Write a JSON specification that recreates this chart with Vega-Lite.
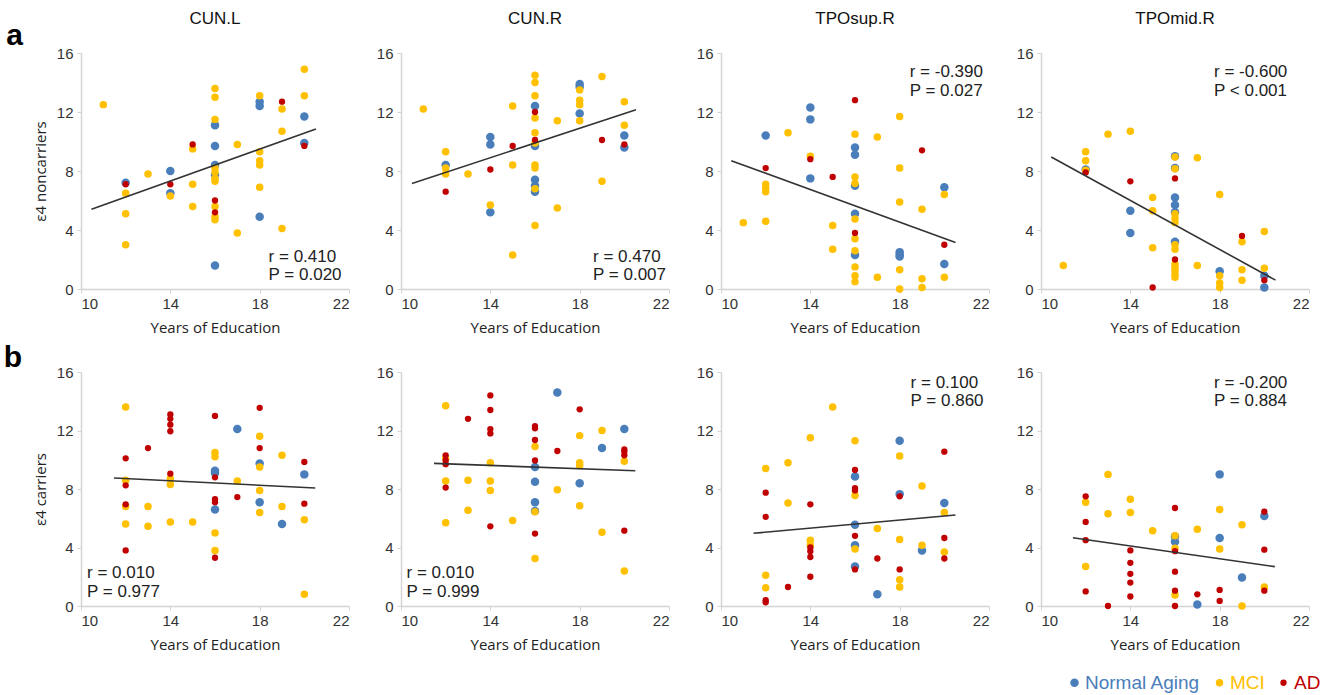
{
"$schema": "https://vega.github.io/schema/vega-lite/v6.json",
"padding": {"left": 3, "top": 10, "right": 5, "bottom": 5},
"background": "white",
"datasets": {
"pts": [
{"p":1,"g":"Normal Aging","x":12,"y":7.2},{"p":1,"g":"Normal Aging","x":14,"y":8.0},{"p":1,"g":"Normal Aging","x":14,"y":6.5},{"p":1,"g":"Normal Aging","x":16,"y":11.1},{"p":1,"g":"Normal Aging","x":16,"y":9.7},{"p":1,"g":"Normal Aging","x":16,"y":8.4},{"p":1,"g":"Normal Aging","x":16,"y":7.75},{"p":1,"g":"Normal Aging","x":16,"y":1.6},{"p":1,"g":"Normal Aging","x":18,"y":12.7},{"p":1,"g":"Normal Aging","x":18,"y":12.4},{"p":1,"g":"Normal Aging","x":18,"y":4.9},{"p":1,"g":"Normal Aging","x":20,"y":11.7},{"p":1,"g":"Normal Aging","x":20,"y":9.9},
{"p":1,"g":"MCI","x":11,"y":12.5},{"p":1,"g":"MCI","x":12,"y":6.5},{"p":1,"g":"MCI","x":12,"y":5.1},{"p":1,"g":"MCI","x":12,"y":3.0},{"p":1,"g":"MCI","x":13,"y":7.8},{"p":1,"g":"MCI","x":14,"y":6.3},{"p":1,"g":"MCI","x":15,"y":9.5},{"p":1,"g":"MCI","x":15,"y":7.1},{"p":1,"g":"MCI","x":15,"y":5.6},{"p":1,"g":"MCI","x":16,"y":13.6},{"p":1,"g":"MCI","x":16,"y":13.0},{"p":1,"g":"MCI","x":16,"y":11.5},{"p":1,"g":"MCI","x":16,"y":8.2},{"p":1,"g":"MCI","x":16,"y":7.9},{"p":1,"g":"MCI","x":16,"y":7.5},{"p":1,"g":"MCI","x":16,"y":7.3},{"p":1,"g":"MCI","x":16,"y":5.6},{"p":1,"g":"MCI","x":16,"y":4.9},{"p":1,"g":"MCI","x":16,"y":4.7},{"p":1,"g":"MCI","x":17,"y":9.8},{"p":1,"g":"MCI","x":17,"y":3.8},{"p":1,"g":"MCI","x":18,"y":13.1},{"p":1,"g":"MCI","x":18,"y":9.3},{"p":1,"g":"MCI","x":18,"y":8.7},{"p":1,"g":"MCI","x":18,"y":8.4},{"p":1,"g":"MCI","x":18,"y":6.9},{"p":1,"g":"MCI","x":19,"y":12.2},{"p":1,"g":"MCI","x":19,"y":10.7},{"p":1,"g":"MCI","x":19,"y":4.1},{"p":1,"g":"MCI","x":20,"y":14.9},{"p":1,"g":"MCI","x":20,"y":13.1},
{"p":1,"g":"AD","x":12,"y":7.1},{"p":1,"g":"AD","x":14,"y":7.1},{"p":1,"g":"AD","x":15,"y":9.8},{"p":1,"g":"AD","x":16,"y":6.0},{"p":1,"g":"AD","x":16,"y":5.2},{"p":1,"g":"AD","x":19,"y":12.7},{"p":1,"g":"AD","x":20,"y":9.7},

{"p":2,"g":"Normal Aging","x":12,"y":8.4},{"p":2,"g":"Normal Aging","x":14,"y":10.3},{"p":2,"g":"Normal Aging","x":14,"y":9.8},{"p":2,"g":"Normal Aging","x":14,"y":5.2},{"p":2,"g":"Normal Aging","x":16,"y":12.4},{"p":2,"g":"Normal Aging","x":16,"y":9.7},{"p":2,"g":"Normal Aging","x":16,"y":7.4},{"p":2,"g":"Normal Aging","x":16,"y":7.0},{"p":2,"g":"Normal Aging","x":16,"y":6.6},{"p":2,"g":"Normal Aging","x":18,"y":13.9},{"p":2,"g":"Normal Aging","x":18,"y":13.7},{"p":2,"g":"Normal Aging","x":18,"y":11.9},{"p":2,"g":"Normal Aging","x":20,"y":10.4},{"p":2,"g":"Normal Aging","x":20,"y":9.6},
{"p":2,"g":"MCI","x":11,"y":12.2},{"p":2,"g":"MCI","x":12,"y":9.3},{"p":2,"g":"MCI","x":12,"y":8.2},{"p":2,"g":"MCI","x":12,"y":7.8},{"p":2,"g":"MCI","x":13,"y":7.8},{"p":2,"g":"MCI","x":14,"y":5.7},{"p":2,"g":"MCI","x":15,"y":12.4},{"p":2,"g":"MCI","x":15,"y":8.4},{"p":2,"g":"MCI","x":15,"y":2.3},{"p":2,"g":"MCI","x":16,"y":14.5},{"p":2,"g":"MCI","x":16,"y":14.0},{"p":2,"g":"MCI","x":16,"y":13.1},{"p":2,"g":"MCI","x":16,"y":11.6},{"p":2,"g":"MCI","x":16,"y":10.6},{"p":2,"g":"MCI","x":16,"y":9.9},{"p":2,"g":"MCI","x":16,"y":8.4},{"p":2,"g":"MCI","x":16,"y":8.2},{"p":2,"g":"MCI","x":16,"y":6.8},{"p":2,"g":"MCI","x":16,"y":4.3},{"p":2,"g":"MCI","x":17,"y":11.4},{"p":2,"g":"MCI","x":17,"y":5.5},{"p":2,"g":"MCI","x":18,"y":13.5},{"p":2,"g":"MCI","x":18,"y":12.8},{"p":2,"g":"MCI","x":18,"y":12.5},{"p":2,"g":"MCI","x":18,"y":11.4},{"p":2,"g":"MCI","x":19,"y":14.4},{"p":2,"g":"MCI","x":19,"y":7.3},{"p":2,"g":"MCI","x":20,"y":12.7},{"p":2,"g":"MCI","x":20,"y":11.1},
{"p":2,"g":"AD","x":12,"y":6.6},{"p":2,"g":"AD","x":14,"y":8.1},{"p":2,"g":"AD","x":15,"y":9.7},{"p":2,"g":"AD","x":16,"y":12.0},{"p":2,"g":"AD","x":16,"y":10.1},{"p":2,"g":"AD","x":19,"y":10.1},{"p":2,"g":"AD","x":20,"y":9.8},

{"p":3,"g":"Normal Aging","x":12,"y":10.4},{"p":3,"g":"Normal Aging","x":14,"y":12.3},{"p":3,"g":"Normal Aging","x":14,"y":11.5},{"p":3,"g":"Normal Aging","x":14,"y":7.5},{"p":3,"g":"Normal Aging","x":16,"y":9.6},{"p":3,"g":"Normal Aging","x":16,"y":9.1},{"p":3,"g":"Normal Aging","x":16,"y":7.0},{"p":3,"g":"Normal Aging","x":16,"y":5.1},{"p":3,"g":"Normal Aging","x":16,"y":2.3},{"p":3,"g":"Normal Aging","x":18,"y":2.5},{"p":3,"g":"Normal Aging","x":18,"y":2.3},{"p":3,"g":"Normal Aging","x":18,"y":2.2},{"p":3,"g":"Normal Aging","x":20,"y":6.9},{"p":3,"g":"Normal Aging","x":20,"y":1.7},
{"p":3,"g":"MCI","x":11,"y":4.5},{"p":3,"g":"MCI","x":12,"y":7.1},{"p":3,"g":"MCI","x":12,"y":6.85},{"p":3,"g":"MCI","x":12,"y":6.6},{"p":3,"g":"MCI","x":12,"y":4.6},{"p":3,"g":"MCI","x":13,"y":10.6},{"p":3,"g":"MCI","x":14,"y":9.0},{"p":3,"g":"MCI","x":15,"y":4.3},{"p":3,"g":"MCI","x":15,"y":2.7},{"p":3,"g":"MCI","x":16,"y":10.5},{"p":3,"g":"MCI","x":16,"y":7.6},{"p":3,"g":"MCI","x":16,"y":7.15},{"p":3,"g":"MCI","x":16,"y":4.75},{"p":3,"g":"MCI","x":16,"y":3.4},{"p":3,"g":"MCI","x":16,"y":2.6},{"p":3,"g":"MCI","x":16,"y":1.5},{"p":3,"g":"MCI","x":16,"y":0.9},{"p":3,"g":"MCI","x":16,"y":0.5},{"p":3,"g":"MCI","x":17,"y":10.3},{"p":3,"g":"MCI","x":17,"y":0.8},{"p":3,"g":"MCI","x":18,"y":11.7},{"p":3,"g":"MCI","x":18,"y":8.2},{"p":3,"g":"MCI","x":18,"y":5.9},{"p":3,"g":"MCI","x":18,"y":1.3},{"p":3,"g":"MCI","x":18,"y":0.0},{"p":3,"g":"MCI","x":19,"y":5.4},{"p":3,"g":"MCI","x":19,"y":0.7},{"p":3,"g":"MCI","x":19,"y":0.1},{"p":3,"g":"MCI","x":20,"y":6.4},{"p":3,"g":"MCI","x":20,"y":0.8},
{"p":3,"g":"AD","x":12,"y":8.2},{"p":3,"g":"AD","x":14,"y":8.8},{"p":3,"g":"AD","x":15,"y":7.6},{"p":3,"g":"AD","x":16,"y":12.8},{"p":3,"g":"AD","x":16,"y":3.8},{"p":3,"g":"AD","x":19,"y":9.4},{"p":3,"g":"AD","x":20,"y":3.0},

{"p":4,"g":"Normal Aging","x":12,"y":8.1},{"p":4,"g":"Normal Aging","x":14,"y":5.3},{"p":4,"g":"Normal Aging","x":14,"y":3.8},{"p":4,"g":"Normal Aging","x":16,"y":9.0},{"p":4,"g":"Normal Aging","x":16,"y":8.2},{"p":4,"g":"Normal Aging","x":16,"y":6.2},{"p":4,"g":"Normal Aging","x":16,"y":5.7},{"p":4,"g":"Normal Aging","x":16,"y":5.2},{"p":4,"g":"Normal Aging","x":16,"y":3.2},{"p":4,"g":"Normal Aging","x":18,"y":1.2},{"p":4,"g":"Normal Aging","x":20,"y":0.9},{"p":4,"g":"Normal Aging","x":20,"y":0.1},
{"p":4,"g":"MCI","x":11,"y":1.6},{"p":4,"g":"MCI","x":12,"y":9.3},{"p":4,"g":"MCI","x":12,"y":8.7},{"p":4,"g":"MCI","x":12,"y":8.05},{"p":4,"g":"MCI","x":13,"y":10.5},{"p":4,"g":"MCI","x":14,"y":10.7},{"p":4,"g":"MCI","x":15,"y":6.2},{"p":4,"g":"MCI","x":15,"y":5.3},{"p":4,"g":"MCI","x":15,"y":2.8},{"p":4,"g":"MCI","x":16,"y":8.95},{"p":4,"g":"MCI","x":16,"y":8.15},{"p":4,"g":"MCI","x":16,"y":5.1},{"p":4,"g":"MCI","x":16,"y":4.8},{"p":4,"g":"MCI","x":16,"y":4.5},{"p":4,"g":"MCI","x":16,"y":3.0},{"p":4,"g":"MCI","x":16,"y":2.7},{"p":4,"g":"MCI","x":16,"y":1.7},{"p":4,"g":"MCI","x":16,"y":1.5},{"p":4,"g":"MCI","x":16,"y":1.25},{"p":4,"g":"MCI","x":16,"y":1.0},{"p":4,"g":"MCI","x":16,"y":0.8},{"p":4,"g":"MCI","x":17,"y":8.9},{"p":4,"g":"MCI","x":17,"y":1.6},{"p":4,"g":"MCI","x":18,"y":6.4},{"p":4,"g":"MCI","x":18,"y":0.9},{"p":4,"g":"MCI","x":18,"y":0.4},{"p":4,"g":"MCI","x":18,"y":0.1},{"p":4,"g":"MCI","x":19,"y":3.2},{"p":4,"g":"MCI","x":19,"y":1.3},{"p":4,"g":"MCI","x":19,"y":0.6},{"p":4,"g":"MCI","x":20,"y":3.9},{"p":4,"g":"MCI","x":20,"y":1.4},
{"p":4,"g":"AD","x":12,"y":7.9},{"p":4,"g":"AD","x":14,"y":7.3},{"p":4,"g":"AD","x":15,"y":0.1},{"p":4,"g":"AD","x":16,"y":7.5},{"p":4,"g":"AD","x":16,"y":2.0},{"p":4,"g":"AD","x":19,"y":3.6},{"p":4,"g":"AD","x":20,"y":0.6},

{"p":5,"g":"Normal Aging","x":16,"y":9.25},{"p":5,"g":"Normal Aging","x":16,"y":9.1},{"p":5,"g":"Normal Aging","x":16,"y":6.6},{"p":5,"g":"Normal Aging","x":17,"y":12.1},{"p":5,"g":"Normal Aging","x":18,"y":9.75},{"p":5,"g":"Normal Aging","x":18,"y":7.1},{"p":5,"g":"Normal Aging","x":19,"y":5.6},{"p":5,"g":"Normal Aging","x":20,"y":9.0},
{"p":5,"g":"MCI","x":12,"y":13.6},{"p":5,"g":"MCI","x":12,"y":8.6},{"p":5,"g":"MCI","x":12,"y":6.8},{"p":5,"g":"MCI","x":12,"y":5.6},{"p":5,"g":"MCI","x":13,"y":6.8},{"p":5,"g":"MCI","x":13,"y":5.45},{"p":5,"g":"MCI","x":14,"y":8.7},{"p":5,"g":"MCI","x":14,"y":8.3},{"p":5,"g":"MCI","x":14,"y":5.75},{"p":5,"g":"MCI","x":15,"y":5.75},{"p":5,"g":"MCI","x":16,"y":10.5},{"p":5,"g":"MCI","x":16,"y":10.2},{"p":5,"g":"MCI","x":16,"y":5.0},{"p":5,"g":"MCI","x":16,"y":3.8},{"p":5,"g":"MCI","x":17,"y":8.55},{"p":5,"g":"MCI","x":18,"y":11.6},{"p":5,"g":"MCI","x":18,"y":9.5},{"p":5,"g":"MCI","x":18,"y":7.9},{"p":5,"g":"MCI","x":18,"y":6.4},{"p":5,"g":"MCI","x":19,"y":10.3},{"p":5,"g":"MCI","x":19,"y":6.8},{"p":5,"g":"MCI","x":20,"y":5.9},{"p":5,"g":"MCI","x":20,"y":0.8},
{"p":5,"g":"AD","x":12,"y":10.1},{"p":5,"g":"AD","x":12,"y":8.25},{"p":5,"g":"AD","x":12,"y":6.95},{"p":5,"g":"AD","x":12,"y":3.8},{"p":5,"g":"AD","x":13,"y":10.8},{"p":5,"g":"AD","x":14,"y":13.1},{"p":5,"g":"AD","x":14,"y":12.8},{"p":5,"g":"AD","x":14,"y":12.4},{"p":5,"g":"AD","x":14,"y":11.95},{"p":5,"g":"AD","x":14,"y":9.05},{"p":5,"g":"AD","x":16,"y":13.0},{"p":5,"g":"AD","x":16,"y":8.8},{"p":5,"g":"AD","x":16,"y":7.3},{"p":5,"g":"AD","x":16,"y":7.1},{"p":5,"g":"AD","x":16,"y":3.3},{"p":5,"g":"AD","x":17,"y":7.45},{"p":5,"g":"AD","x":18,"y":13.55},{"p":5,"g":"AD","x":18,"y":10.8},{"p":5,"g":"AD","x":20,"y":9.85},{"p":5,"g":"AD","x":20,"y":7.0},

{"p":6,"g":"Normal Aging","x":16,"y":9.5},{"p":6,"g":"Normal Aging","x":16,"y":8.5},{"p":6,"g":"Normal Aging","x":16,"y":7.1},{"p":6,"g":"Normal Aging","x":16,"y":6.5},{"p":6,"g":"Normal Aging","x":17,"y":14.6},{"p":6,"g":"Normal Aging","x":18,"y":8.4},{"p":6,"g":"Normal Aging","x":19,"y":10.8},{"p":6,"g":"Normal Aging","x":20,"y":12.1},
{"p":6,"g":"MCI","x":12,"y":13.7},{"p":6,"g":"MCI","x":12,"y":10.1},{"p":6,"g":"MCI","x":12,"y":8.55},{"p":6,"g":"MCI","x":12,"y":5.7},{"p":6,"g":"MCI","x":13,"y":8.6},{"p":6,"g":"MCI","x":13,"y":6.55},{"p":6,"g":"MCI","x":14,"y":9.8},{"p":6,"g":"MCI","x":14,"y":8.55},{"p":6,"g":"MCI","x":14,"y":7.9},{"p":6,"g":"MCI","x":15,"y":5.85},{"p":6,"g":"MCI","x":16,"y":10.9},{"p":6,"g":"MCI","x":16,"y":6.45},{"p":6,"g":"MCI","x":16,"y":3.25},{"p":6,"g":"MCI","x":17,"y":7.95},{"p":6,"g":"MCI","x":18,"y":11.65},{"p":6,"g":"MCI","x":18,"y":9.8},{"p":6,"g":"MCI","x":18,"y":9.6},{"p":6,"g":"MCI","x":18,"y":6.85},{"p":6,"g":"MCI","x":19,"y":12.0},{"p":6,"g":"MCI","x":19,"y":5.05},{"p":6,"g":"MCI","x":20,"y":9.9},{"p":6,"g":"MCI","x":20,"y":2.4},
{"p":6,"g":"AD","x":12,"y":10.3},{"p":6,"g":"AD","x":12,"y":9.95},{"p":6,"g":"AD","x":12,"y":9.7},{"p":6,"g":"AD","x":12,"y":8.1},{"p":6,"g":"AD","x":13,"y":12.8},{"p":6,"g":"AD","x":14,"y":14.4},{"p":6,"g":"AD","x":14,"y":13.4},{"p":6,"g":"AD","x":14,"y":12.1},{"p":6,"g":"AD","x":14,"y":11.8},{"p":6,"g":"AD","x":14,"y":5.45},{"p":6,"g":"AD","x":16,"y":12.3},{"p":6,"g":"AD","x":16,"y":12.15},{"p":6,"g":"AD","x":16,"y":11.35},{"p":6,"g":"AD","x":16,"y":9.95},{"p":6,"g":"AD","x":16,"y":4.95},{"p":6,"g":"AD","x":17,"y":10.6},{"p":6,"g":"AD","x":18,"y":13.45},{"p":6,"g":"AD","x":20,"y":10.7},{"p":6,"g":"AD","x":20,"y":10.55},{"p":6,"g":"AD","x":20,"y":10.3},{"p":6,"g":"AD","x":20,"y":5.15},

{"p":7,"g":"Normal Aging","x":16,"y":8.85},{"p":7,"g":"Normal Aging","x":16,"y":5.55},{"p":7,"g":"Normal Aging","x":16,"y":4.15},{"p":7,"g":"Normal Aging","x":16,"y":2.7},{"p":7,"g":"Normal Aging","x":17,"y":0.8},{"p":7,"g":"Normal Aging","x":18,"y":11.3},{"p":7,"g":"Normal Aging","x":18,"y":7.65},{"p":7,"g":"Normal Aging","x":19,"y":3.8},{"p":7,"g":"Normal Aging","x":20,"y":7.05},
{"p":7,"g":"MCI","x":12,"y":9.4},{"p":7,"g":"MCI","x":12,"y":2.1},{"p":7,"g":"MCI","x":12,"y":1.25},{"p":7,"g":"MCI","x":13,"y":9.8},{"p":7,"g":"MCI","x":13,"y":7.05},{"p":7,"g":"MCI","x":14,"y":11.5},{"p":7,"g":"MCI","x":14,"y":4.5},{"p":7,"g":"MCI","x":14,"y":4.15},{"p":7,"g":"MCI","x":15,"y":13.6},{"p":7,"g":"MCI","x":16,"y":11.3},{"p":7,"g":"MCI","x":16,"y":7.55},{"p":7,"g":"MCI","x":16,"y":3.9},{"p":7,"g":"MCI","x":17,"y":5.3},{"p":7,"g":"MCI","x":18,"y":10.25},{"p":7,"g":"MCI","x":18,"y":4.55},{"p":7,"g":"MCI","x":18,"y":1.8},{"p":7,"g":"MCI","x":18,"y":1.3},{"p":7,"g":"MCI","x":19,"y":8.2},{"p":7,"g":"MCI","x":19,"y":4.15},{"p":7,"g":"MCI","x":20,"y":6.4},{"p":7,"g":"MCI","x":20,"y":3.7},
{"p":7,"g":"AD","x":12,"y":7.75},{"p":7,"g":"AD","x":12,"y":6.1},{"p":7,"g":"AD","x":12,"y":0.4},{"p":7,"g":"AD","x":12,"y":0.25},{"p":7,"g":"AD","x":13,"y":1.3},{"p":7,"g":"AD","x":14,"y":6.95},{"p":7,"g":"AD","x":14,"y":4.0},{"p":7,"g":"AD","x":14,"y":3.75},{"p":7,"g":"AD","x":14,"y":3.35},{"p":7,"g":"AD","x":14,"y":2.0},{"p":7,"g":"AD","x":16,"y":9.3},{"p":7,"g":"AD","x":16,"y":8.05},{"p":7,"g":"AD","x":16,"y":7.9},{"p":7,"g":"AD","x":16,"y":4.8},{"p":7,"g":"AD","x":16,"y":2.5},{"p":7,"g":"AD","x":17,"y":3.25},{"p":7,"g":"AD","x":18,"y":7.5},{"p":7,"g":"AD","x":18,"y":2.5},{"p":7,"g":"AD","x":20,"y":10.55},{"p":7,"g":"AD","x":20,"y":4.65},{"p":7,"g":"AD","x":20,"y":3.25},

{"p":8,"g":"Normal Aging","x":16,"y":4.75},{"p":8,"g":"Normal Aging","x":16,"y":4.4},{"p":8,"g":"Normal Aging","x":17,"y":0.1},{"p":8,"g":"Normal Aging","x":18,"y":9.0},{"p":8,"g":"Normal Aging","x":18,"y":4.65},{"p":8,"g":"Normal Aging","x":19,"y":1.95},{"p":8,"g":"Normal Aging","x":20,"y":6.15},
{"p":8,"g":"MCI","x":12,"y":7.1},{"p":8,"g":"MCI","x":12,"y":2.7},{"p":8,"g":"MCI","x":13,"y":9.0},{"p":8,"g":"MCI","x":13,"y":6.3},{"p":8,"g":"MCI","x":14,"y":7.3},{"p":8,"g":"MCI","x":14,"y":6.4},{"p":8,"g":"MCI","x":15,"y":5.15},{"p":8,"g":"MCI","x":16,"y":4.8},{"p":8,"g":"MCI","x":16,"y":3.95},{"p":8,"g":"MCI","x":16,"y":0.75},{"p":8,"g":"MCI","x":17,"y":5.25},{"p":8,"g":"MCI","x":18,"y":6.6},{"p":8,"g":"MCI","x":18,"y":3.9},{"p":8,"g":"MCI","x":19,"y":5.55},{"p":8,"g":"MCI","x":19,"y":0.0},{"p":8,"g":"MCI","x":20,"y":1.3},
{"p":8,"g":"AD","x":12,"y":7.5},{"p":8,"g":"AD","x":12,"y":5.75},{"p":8,"g":"AD","x":12,"y":4.5},{"p":8,"g":"AD","x":12,"y":1.0},{"p":8,"g":"AD","x":13,"y":0.0},{"p":8,"g":"AD","x":14,"y":3.8},{"p":8,"g":"AD","x":14,"y":2.95},{"p":8,"g":"AD","x":14,"y":2.2},{"p":8,"g":"AD","x":14,"y":1.6},{"p":8,"g":"AD","x":14,"y":0.65},{"p":8,"g":"AD","x":16,"y":6.7},{"p":8,"g":"AD","x":16,"y":3.75},{"p":8,"g":"AD","x":16,"y":2.35},{"p":8,"g":"AD","x":16,"y":1.05},{"p":8,"g":"AD","x":16,"y":0.0},{"p":8,"g":"AD","x":17,"y":0.8},{"p":8,"g":"AD","x":18,"y":1.1},{"p":8,"g":"AD","x":18,"y":0.35},{"p":8,"g":"AD","x":20,"y":6.45},{"p":8,"g":"AD","x":20,"y":3.85},{"p":8,"g":"AD","x":20,"y":1.05}
],
"fit": [
{"p":1,"x":10.47,"y":5.4},{"p":1,"x":20.52,"y":10.85},
{"p":2,"x":10.49,"y":7.15},{"p":2,"x":20.52,"y":12.15},
{"p":3,"x":10.46,"y":8.7},{"p":3,"x":20.5,"y":3.15},
{"p":4,"x":10.46,"y":8.95},{"p":4,"x":20.5,"y":0.6},
{"p":5,"x":11.48,"y":8.75},{"p":5,"x":20.49,"y":8.07},
{"p":6,"x":11.48,"y":9.75},{"p":6,"x":20.49,"y":9.25},
{"p":7,"x":11.46,"y":4.97},{"p":7,"x":20.5,"y":6.22},
{"p":8,"x":11.43,"y":4.67},{"p":8,"x":20.47,"y":2.69}
],
"note": [
{"p":1,"x":18.4,"y":2.2,"t":"r = 0.410"},{"p":1,"x":18.4,"y":0.95,"t":"P = 0.020"},
{"p":2,"x":18.6,"y":2.2,"t":"r = 0.470"},{"p":2,"x":18.6,"y":0.95,"t":"P = 0.007"},
{"p":3,"x":18.45,"y":14.7,"t":"r = -0.390"},{"p":3,"x":18.45,"y":13.4,"t":"P = 0.027"},
{"p":4,"x":17.75,"y":14.7,"t":"r = -0.600"},{"p":4,"x":17.75,"y":13.4,"t":"P < 0.001"},
{"p":5,"x":10.27,"y":2.28,"t":"r = 0.010"},{"p":5,"x":10.27,"y":0.96,"t":"P = 0.977"},
{"p":6,"x":10.25,"y":2.28,"t":"r = 0.010"},{"p":6,"x":10.25,"y":0.96,"t":"P = 0.999"},
{"p":7,"x":18.49,"y":15.27,"t":"r = 0.100"},{"p":7,"x":18.49,"y":14.02,"t":"P = 0.860"},
{"p":8,"x":17.75,"y":15.27,"t":"r = -0.200"},{"p":8,"x":17.75,"y":14.02,"t":"P = 0.884"}
]
},
"vconcat": [
{
"title": {"text": "a", "orient": "left", "anchor": "end", "angle": 0, "fontSize": 30, "fontWeight": "bold", "font": "Liberation Sans", "align": "center", "baseline": "top", "offset": 2, "dy": 11, "color": "#000"},
"spacing": 26,
"hconcat": [
{"width": 268, "height": 236, "title": "CUN.L",
 "encoding": {"x": {"field": "x", "type": "quantitative", "scale": {"domain": [10, 22]}, "axis": {"values": [10, 14, 18, 22], "title": "Years of Education"}}, "y": {"field": "y", "type": "quantitative", "scale": {"domain": [0, 16]}, "axis": {"values": [0, 4, 8, 12, 16], "title": "ε4 noncarriers"}}},
 "layer": [
  {"data": {"name": "pts"}, "transform": [{"filter": "datum.p == 1"}], "mark": {"type": "circle", "opacity": 1}, "encoding": {"color": {"field": "g", "type": "nominal", "title": null, "scale": {"domain": ["Normal Aging", "MCI", "AD"], "range": ["#4a7ebb", "#ffc000", "#c00000"]}, "legend": {"labelColor": {"expr": "datum.value === 'MCI' ? '#ffc000' : datum.value === 'AD' ? '#c00000' : '#4a7ebb'"}}}, "size": {"field": "g", "type": "nominal", "scale": {"domain": ["Normal Aging", "MCI", "AD"], "range": [72, 40, 46]}, "legend": null}}},
  {"data": {"name": "fit"}, "transform": [{"filter": "datum.p == 1"}], "mark": {"type": "line", "color": "#333333", "strokeWidth": 1.6}, "encoding": {}},
  {"data": {"name": "note"}, "transform": [{"filter": "datum.p == 1"}], "mark": {"type": "text", "align": "left", "baseline": "middle", "fontSize": 17, "font": "Liberation Sans", "color": "#222222"}, "encoding": {"text": {"field": "t"}}}
 ]},
{"width": 268, "height": 236, "title": "CUN.R",
 "encoding": {"x": {"field": "x", "type": "quantitative", "scale": {"domain": [10, 22]}, "axis": {"values": [10, 14, 18, 22], "title": "Years of Education"}}, "y": {"field": "y", "type": "quantitative", "scale": {"domain": [0, 16]}, "axis": {"values": [0, 4, 8, 12, 16], "title": null}}},
 "layer": [
  {"data": {"name": "pts"}, "transform": [{"filter": "datum.p == 2"}], "mark": {"type": "circle", "opacity": 1}, "encoding": {"color": {"field": "g", "type": "nominal", "title": null, "scale": {"domain": ["Normal Aging", "MCI", "AD"], "range": ["#4a7ebb", "#ffc000", "#c00000"]}, "legend": null}, "size": {"field": "g", "type": "nominal", "scale": {"domain": ["Normal Aging", "MCI", "AD"], "range": [72, 40, 46]}, "legend": null}}},
  {"data": {"name": "fit"}, "transform": [{"filter": "datum.p == 2"}], "mark": {"type": "line", "color": "#333333", "strokeWidth": 1.6}, "encoding": {}},
  {"data": {"name": "note"}, "transform": [{"filter": "datum.p == 2"}], "mark": {"type": "text", "align": "left", "baseline": "middle", "fontSize": 17, "font": "Liberation Sans", "color": "#222222"}, "encoding": {"text": {"field": "t"}}}
 ]},
{"width": 268, "height": 236, "title": "TPOsup.R",
 "encoding": {"x": {"field": "x", "type": "quantitative", "scale": {"domain": [10, 22]}, "axis": {"values": [10, 14, 18, 22], "title": "Years of Education"}}, "y": {"field": "y", "type": "quantitative", "scale": {"domain": [0, 16]}, "axis": {"values": [0, 4, 8, 12, 16], "title": null}}},
 "layer": [
  {"data": {"name": "pts"}, "transform": [{"filter": "datum.p == 3"}], "mark": {"type": "circle", "opacity": 1}, "encoding": {"color": {"field": "g", "type": "nominal", "title": null, "scale": {"domain": ["Normal Aging", "MCI", "AD"], "range": ["#4a7ebb", "#ffc000", "#c00000"]}, "legend": null}, "size": {"field": "g", "type": "nominal", "scale": {"domain": ["Normal Aging", "MCI", "AD"], "range": [72, 40, 46]}, "legend": null}}},
  {"data": {"name": "fit"}, "transform": [{"filter": "datum.p == 3"}], "mark": {"type": "line", "color": "#333333", "strokeWidth": 1.6}, "encoding": {}},
  {"data": {"name": "note"}, "transform": [{"filter": "datum.p == 3"}], "mark": {"type": "text", "align": "left", "baseline": "middle", "fontSize": 17, "font": "Liberation Sans", "color": "#222222"}, "encoding": {"text": {"field": "t"}}}
 ]},
{"width": 268, "height": 236, "title": "TPOmid.R",
 "encoding": {"x": {"field": "x", "type": "quantitative", "scale": {"domain": [10, 22]}, "axis": {"values": [10, 14, 18, 22], "title": "Years of Education"}}, "y": {"field": "y", "type": "quantitative", "scale": {"domain": [0, 16]}, "axis": {"values": [0, 4, 8, 12, 16], "title": null}}},
 "layer": [
  {"data": {"name": "pts"}, "transform": [{"filter": "datum.p == 4"}], "mark": {"type": "circle", "opacity": 1}, "encoding": {"color": {"field": "g", "type": "nominal", "title": null, "scale": {"domain": ["Normal Aging", "MCI", "AD"], "range": ["#4a7ebb", "#ffc000", "#c00000"]}, "legend": null}, "size": {"field": "g", "type": "nominal", "scale": {"domain": ["Normal Aging", "MCI", "AD"], "range": [72, 40, 46]}, "legend": null}}},
  {"data": {"name": "fit"}, "transform": [{"filter": "datum.p == 4"}], "mark": {"type": "line", "color": "#333333", "strokeWidth": 1.6}, "encoding": {}},
  {"data": {"name": "note"}, "transform": [{"filter": "datum.p == 4"}], "mark": {"type": "text", "align": "left", "baseline": "middle", "fontSize": 17, "font": "Liberation Sans", "color": "#222222"}, "encoding": {"text": {"field": "t"}}}
 ]}
]
},
{
"title": {"text": "b", "orient": "left", "anchor": "end", "angle": 0, "fontSize": 30, "fontWeight": "bold", "font": "Liberation Sans", "align": "center", "baseline": "top", "offset": 2, "dy": -22, "color": "#000"},
"spacing": 26,
"hconcat": [
{"width": 268, "height": 234,
 "encoding": {"x": {"field": "x", "type": "quantitative", "scale": {"domain": [10, 22]}, "axis": {"values": [10, 14, 18, 22], "title": "Years of Education"}}, "y": {"field": "y", "type": "quantitative", "scale": {"domain": [0, 16]}, "axis": {"values": [0, 4, 8, 12, 16], "title": "ε4 carriers"}}},
 "layer": [
  {"data": {"name": "pts"}, "transform": [{"filter": "datum.p == 5"}], "mark": {"type": "circle", "opacity": 1}, "encoding": {"color": {"field": "g", "type": "nominal", "title": null, "scale": {"domain": ["Normal Aging", "MCI", "AD"], "range": ["#4a7ebb", "#ffc000", "#c00000"]}, "legend": null}, "size": {"field": "g", "type": "nominal", "scale": {"domain": ["Normal Aging", "MCI", "AD"], "range": [72, 40, 46]}, "legend": null}}},
  {"data": {"name": "fit"}, "transform": [{"filter": "datum.p == 5"}], "mark": {"type": "line", "color": "#333333", "strokeWidth": 1.6}, "encoding": {}},
  {"data": {"name": "note"}, "transform": [{"filter": "datum.p == 5"}], "mark": {"type": "text", "align": "left", "baseline": "middle", "fontSize": 17, "font": "Liberation Sans", "color": "#222222"}, "encoding": {"text": {"field": "t"}}}
 ]},
{"width": 268, "height": 234,
 "encoding": {"x": {"field": "x", "type": "quantitative", "scale": {"domain": [10, 22]}, "axis": {"values": [10, 14, 18, 22], "title": "Years of Education"}}, "y": {"field": "y", "type": "quantitative", "scale": {"domain": [0, 16]}, "axis": {"values": [0, 4, 8, 12, 16], "title": null}}},
 "layer": [
  {"data": {"name": "pts"}, "transform": [{"filter": "datum.p == 6"}], "mark": {"type": "circle", "opacity": 1}, "encoding": {"color": {"field": "g", "type": "nominal", "title": null, "scale": {"domain": ["Normal Aging", "MCI", "AD"], "range": ["#4a7ebb", "#ffc000", "#c00000"]}, "legend": null}, "size": {"field": "g", "type": "nominal", "scale": {"domain": ["Normal Aging", "MCI", "AD"], "range": [72, 40, 46]}, "legend": null}}},
  {"data": {"name": "fit"}, "transform": [{"filter": "datum.p == 6"}], "mark": {"type": "line", "color": "#333333", "strokeWidth": 1.6}, "encoding": {}},
  {"data": {"name": "note"}, "transform": [{"filter": "datum.p == 6"}], "mark": {"type": "text", "align": "left", "baseline": "middle", "fontSize": 17, "font": "Liberation Sans", "color": "#222222"}, "encoding": {"text": {"field": "t"}}}
 ]},
{"width": 268, "height": 234,
 "encoding": {"x": {"field": "x", "type": "quantitative", "scale": {"domain": [10, 22]}, "axis": {"values": [10, 14, 18, 22], "title": "Years of Education"}}, "y": {"field": "y", "type": "quantitative", "scale": {"domain": [0, 16]}, "axis": {"values": [0, 4, 8, 12, 16], "title": null}}},
 "layer": [
  {"data": {"name": "pts"}, "transform": [{"filter": "datum.p == 7"}], "mark": {"type": "circle", "opacity": 1}, "encoding": {"color": {"field": "g", "type": "nominal", "title": null, "scale": {"domain": ["Normal Aging", "MCI", "AD"], "range": ["#4a7ebb", "#ffc000", "#c00000"]}, "legend": null}, "size": {"field": "g", "type": "nominal", "scale": {"domain": ["Normal Aging", "MCI", "AD"], "range": [72, 40, 46]}, "legend": null}}},
  {"data": {"name": "fit"}, "transform": [{"filter": "datum.p == 7"}], "mark": {"type": "line", "color": "#333333", "strokeWidth": 1.6}, "encoding": {}},
  {"data": {"name": "note"}, "transform": [{"filter": "datum.p == 7"}], "mark": {"type": "text", "align": "left", "baseline": "middle", "fontSize": 17, "font": "Liberation Sans", "color": "#222222"}, "encoding": {"text": {"field": "t"}}}
 ]},
{"width": 268, "height": 234,
 "encoding": {"x": {"field": "x", "type": "quantitative", "scale": {"domain": [10, 22]}, "axis": {"values": [10, 14, 18, 22], "title": "Years of Education"}}, "y": {"field": "y", "type": "quantitative", "scale": {"domain": [0, 16]}, "axis": {"values": [0, 4, 8, 12, 16], "title": null}}},
 "layer": [
  {"data": {"name": "pts"}, "transform": [{"filter": "datum.p == 8"}], "mark": {"type": "circle", "opacity": 1}, "encoding": {"color": {"field": "g", "type": "nominal", "title": null, "scale": {"domain": ["Normal Aging", "MCI", "AD"], "range": ["#4a7ebb", "#ffc000", "#c00000"]}, "legend": null}, "size": {"field": "g", "type": "nominal", "scale": {"domain": ["Normal Aging", "MCI", "AD"], "range": [72, 40, 46]}, "legend": null}}},
  {"data": {"name": "fit"}, "transform": [{"filter": "datum.p == 8"}], "mark": {"type": "line", "color": "#333333", "strokeWidth": 1.6}, "encoding": {}},
  {"data": {"name": "note"}, "transform": [{"filter": "datum.p == 8"}], "mark": {"type": "text", "align": "left", "baseline": "middle", "fontSize": 17, "font": "Liberation Sans", "color": "#222222"}, "encoding": {"text": {"field": "t"}}}
 ]}
]
}
],
"spacing": 8,
"config": {
 "view": {"stroke": null},
 "axis": {"grid": false, "domainColor": "#d4d4d4", "domainWidth": 1.5, "tickColor": "#d4d4d4", "tickSize": 4, "labelFont": "Liberation Sans", "labelFontSize": 15, "labelColor": "#333333", "titleFont": "Open Sans", "titleFontSize": 15, "titleFontWeight": "normal", "titleColor": "#222222"},
 "axisX": {"titlePadding": 9, "labelPadding": 3},
 "axisY": {"titlePadding": 8, "labelPadding": 4},
 "title": {"font": "Liberation Sans", "fontSize": 17, "fontWeight": "normal", "color": "#111111", "offset": 18},
 "legend": {"orient": "none", "legendX": 984, "legendY": 620, "direction": "horizontal", "labelFont": "Liberation Sans", "labelFontSize": 19, "symbolType": "circle", "symbolSize": 16, "symbolStrokeWidth": 0, "columnPadding": 9, "labelOffset": 1}
}
}
